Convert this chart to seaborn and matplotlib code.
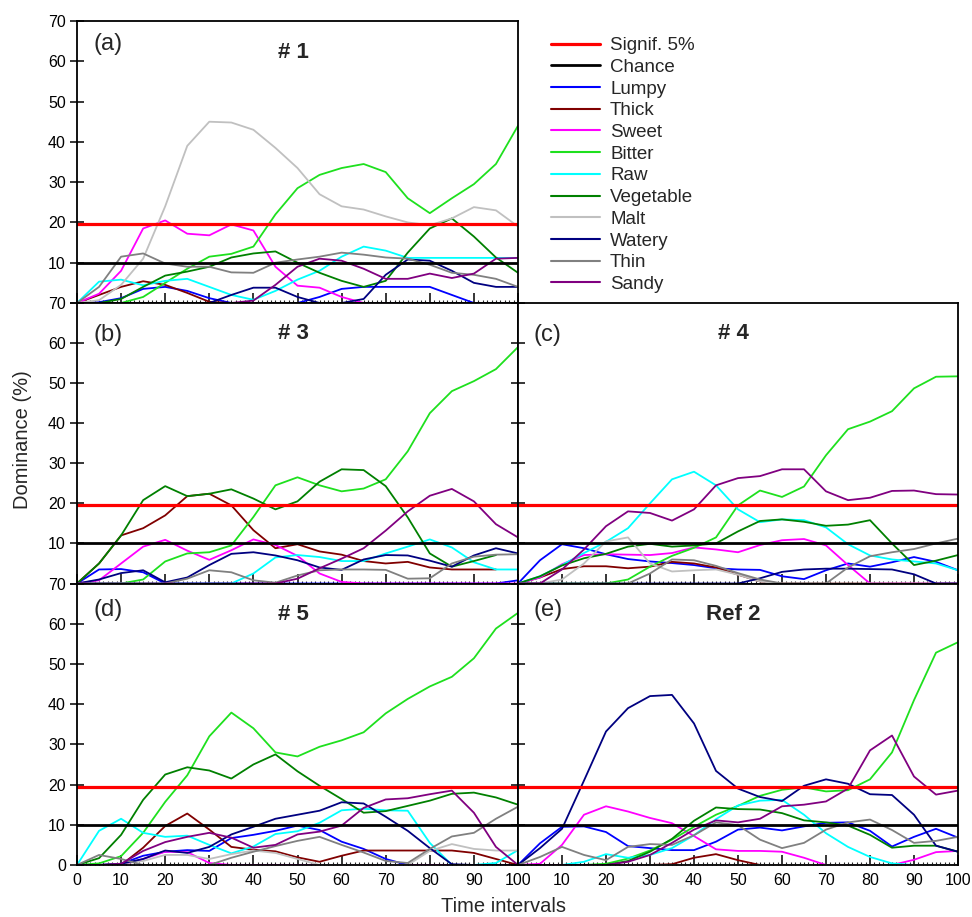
import numpy as np
import pandas as pd
import matplotlib
matplotlib.use("Agg")
import matplotlib.pyplot as plt
import seaborn as sns
from matplotlib.lines import Line2D
from matplotlib.ticker import MultipleLocator, FixedLocator

sns.set_style("ticks")
plt.rcParams["font.family"] = ["Liberation Sans", "DejaVu Sans"]

nan = np.nan
time = list(range(0, 101, 5))
attributes = ["Lumpy", "Thick", "Sweet", "Bitter", "Raw", "Vegetable",
              "Malt", "Watery", "Thin", "Sandy"]
attr_colors = ["#0000FF", "#800000", "#FF00FF", "#1EE01E", "#00FFFF", "#008000",
               "#C0C0C0", "#000080", "#808080", "#800080"]
signif_level = 19.5
chance_level = 10
panel_letters = ["(a)", "(b)", "(c)", "(d)", "(e)"]
panel_titles = ["# 1", "# 3", "# 4", "# 5", "Ref 2"]

zero = [0] * 21

s1 = {
    "Lumpy":     [0, 0.2, 1.2, 3.5, 4, 3, 1.2, 0, 0, 0, 0, 1.5, 3.5, 4, 4, 4, 4, 2, 0, 0, 0],
    "Thick":     [0, 2, 4, 5.4, 4.5, 2.5, 0.3, 0, 0, 0, 0, 0, 0, 0, 0, 0, 0, 0, 0, 0, 0],
    "Sweet":     [0, 2.3, 8, 18.5, 20.5, 17.2, 16.8, 19.5, 18, 9, 4.3, 3.8, 1.5, 0, 0, 0, 0, 0, 0, 0, 0],
    "Bitter":    [0, 0, 0, 1.5, 5, 8.5, 11.5, 12.2, 14, 22, 28.5, 31.8, 33.5, 34.5, 32.5, 26, 22.3, 26, 29.5, 34.5, 44],
    "Raw":       [0, 5.3, 5.8, 4.4, 5.5, 6, 4, 2, 0.8, 3, 5.8, 8, 11.5, 14, 13, 11.2, 11.2, 11.2, 11.2, 11.2, 11.2],
    "Vegetable": [0, 0, 1, 4, 6.8, 7.8, 9, 11.3, 12.3, 12.8, 10, 7.5, 5.5, 4, 5.5, 12.5, 18.5, 21, 16.5, 11.3, 7.5],
    "Malt":      [0, 0.7, 4.5, 11, 24, 39, 45, 44.8, 43, 38.5, 33.5, 27, 24, 23.2, 21.5, 20, 19.3, 21, 23.8, 23, 19],
    "Watery":    [0, 0, 0, 0, 0, 0, 0, 2, 3.8, 3.8, 1.5, 0, 0, 1, 7, 10.8, 10.5, 8, 5, 4, 4],
    "Thin":      [0, 4, 11.5, 12.3, 9.8, 9, 9, 7.6, 7.5, 10, 10.8, 11.5, 12.5, 12, 11.3, 11, 9.5, 7.5, 7, 6, 4],
    "Sandy":     [0, 0, 0, 0, 0, 0, 0, 0, 0.6, 4.5, 9, 11, 10.5, 8.5, 6, 6, 7.3, 6.2, 7.3, 11, 11.2],
}
s3 = {
    "Lumpy":     [0, 3.5, 3.6, 2.8, 0, 0, 0, 0, 0, 0, 0, 0, 0, 0, 0, 0, 0, 0, 0, 0, 0.8],
    "Thick":     [0, 5, 12, 13.8, 17, 21.8, 22.4, 19.5, 13.3, 8.8, 9.8, 8, 7.2, 5.6, 5, 5.4, 4, 3.5, 3.5, 3.5, nan],
    "Sweet":     [0, 0.8, 5, 9.2, 10.9, 8.2, 5.9, 8.3, 11, 9.6, 6.9, 2.5, 0.4, 0, 0, 0, 0, 0, 0, 0, 0],
    "Bitter":    [0, 0, 0, 1, 5.5, 7.5, 7.8, 9.5, 16.6, 24.5, 26.5, 24.5, 23, 23.7, 26, 33, 42.5, 48, 50.5, 53.5, 59],
    "Raw":       [0, 0, 0, 0, 0, 0, 0, 0, 2.5, 6.5, 7.1, 6.6, 5.6, 5.6, 7.5, 9.2, 11, 9, 5.3, 3.5, 3.5],
    "Vegetable": [0, 5, 12, 20.8, 24.3, 21.8, 22.4, 23.5, 21.2, 18.5, 20.5, 25.4, 28.5, 28.3, 24.3, 16.5, 7.5, 4.2, 5.6, 7.1, nan],
    "Malt":      zero,
    "Watery":    [0, 1, 2.6, 3.3, 0.3, 1.5, 4.6, 7.4, 7.8, 7, 5.8, 4, 3.4, 6, 7.1, 7, 5.7, 4.2, 7, 8.8, 7.5],
    "Thin":      [0, 0, 0, 0, 0, 1.2, 3.3, 2.8, 0.8, 0.2, 2, 3.3, 3.5, 3.5, 3.4, 1.2, 1.3, 5, 6.7, 7.2, 7.3],
    "Sandy":     [0, 0, 0, 0, 0, 0, 0, 0, 0, 0, 1.2, 3.8, 6.2, 8.8, 13.2, 18, 21.9, 23.6, 20.5, 14.8, 11.5],
}
s4 = {
    "Lumpy":     [0, 5.8, 9.8, 8.8, 7.3, 6.1, 5.5, 5.1, 4.6, 3.8, 3.5, 3.4, 1.8, 1.1, 3.3, 5, 4.2, 5.3, 6.6, 5.4, 3.3],
    "Thick":     [0, 1.5, 3.6, 4.3, 4.3, 3.8, 4.2, 5.4, 5, 4, 2.2, 0.5, 0, 0, 0, 0, 0, 0, 0, 0, 0],
    "Sweet":     [0, 1.5, 4.8, 7.1, 7.3, 7.2, 7.1, 7.6, 9, 8.5, 7.8, 9.6, 10.8, 11.1, 9.5, 4.6, 0, 0, 0, 0, 0],
    "Bitter":    [0, 0, 0, 0, 0, 1, 4.2, 6.9, 8.9, 11.5, 19.5, 23.2, 21.6, 24.2, 32, 38.5, 40.4, 43, 48.7, 51.6, 51.7],
    "Raw":       [0, 1.8, 4.6, 7.6, 10.4, 13.8, 20, 26, 27.9, 24.5, 18.5, 15.3, 16, 15.8, 14, 9.8, 7, 6, 5.5, 5, 3.3],
    "Vegetable": [0, 1.8, 4.5, 6.3, 7.4, 9.2, 9.9, 9.2, 9.5, 10, 13, 15.6, 16, 15.4, 14.4, 14.7, 15.8, 10, 4.6, 5.7, 7.1],
    "Malt":      [0, 0, 1, 5, 10.5, 11.5, 5, 3, 3.3, 3.5, 2.2, 0.5, 0, 0, 0, 0, 0, 0, 0, 0, 0],
    "Watery":    [0, 0, 0, 0, 0, 0, 0, 0, 0, 0, 0, 1.3, 2.9, 3.5, 3.7, 3.7, 3.6, 3.5, 2.3, 0, 0],
    "Thin":      [0, 0, 0, 0, 0, 0, 2.5, 6, 5.8, 4.4, 2.6, 1, 0, 0, 0, 4, 6.8, 7.8, 8.6, 10, 11.2],
    "Sandy":     [0, 0, 3.5, 8.5, 14.3, 18, 17.6, 15.7, 18.5, 24.5, 26.3, 26.8, 28.5, 28.5, 23, 20.8, 21.4, 23.1, 23.2, 22.3, 22.2],
}
s5 = {
    "Lumpy":     [0, 0, 0.3, 2.3, 3.3, 3.7, 3.5, 6.7, 7.5, 8.5, 9.8, 8.7, 5.8, 4, 1.5, 0, 0, 0, 0, 0, 0],
    "Thick":     [0, 0, 0, 4.3, 9.7, 12.8, 8.8, 4.5, 3.8, 3.4, 1.9, 0.8, 2.3, 3.6, 3.6, 3.6, 3.6, 3.6, 3, 1.5, 0],
    "Sweet":     [0, 0, 0, 1.5, 3.3, 3.2, 0.5, 0, 0, 0, 0, 0, 0, 0, 0, 0, 0, 0, 0, 0, 0],
    "Bitter":    [0, 0.4, 2.2, 8, 15.7, 22.3, 32, 37.9, 34, 28, 27, 29.4, 31, 33, 37.7, 41.3, 44.4, 46.8, 51.4, 58.8, 62.7],
    "Raw":       [0, 8.5, 11.5, 8, 7, 7.3, 5, 2.9, 4.6, 7.7, 8.4, 10.5, 13.6, 14, 13.6, 13.5, 5.5, 0, 0, 0.5, 3.7],
    "Vegetable": [0, 1.7, 7.5, 16.2, 22.5, 24.3, 23.5, 21.5, 25, 27.5, 23.3, 19.7, 16.4, 13, 13.4, 14.7, 16, 17.7, 18, 16.8, 15],
    "Malt":      [0, 0, 0.3, 1, 2.5, 2.5, 1.5, 2.7, 3.6, 3, 1.5, 0, 0, 0, 0, 0, 3.5, 5.2, 4, 3.6, 3.6],
    "Watery":    [0, 0, 0.3, 1.5, 3.6, 3, 4.5, 7.6, 9.5, 11.5, 12.5, 13.5, 15.6, 15.3, 12, 8.5, 4.2, 0.2, 0, 0, 0],
    "Thin":      [0, 2.5, 1.5, 0, 0, 0, 0, 1.8, 3.3, 4.7, 6, 7, 5, 3.1, 1, 0.5, 4, 7.1, 8, 11.5, 14.5],
    "Sandy":     [0, 0, 0.3, 3.5, 5.7, 7, 8, 6.8, 4.3, 5, 7.6, 8.3, 9.8, 14.2, 16.3, 16.6, 17.6, 18.5, 13, 4.5, 0],
}
s_ref2 = {
    "Lumpy":     [0, 5.4, 9.5, 9.6, 8.2, 4.7, 4.2, 3.7, 3.7, 5.8, 8.8, 9.3, 8.6, 9.6, 10.5, 10.6, 8.5, 4.6, 7, 9, 6.8],
    "Thick":     [0, 0, 0, 0, 0, 0, 0, 0.2, 1.8, 2.7, 1.2, 0, 0, 0, 0, 0, 0, 0, 0, 0, 0],
    "Sweet":     [0, 0.3, 5, 12.5, 14.6, 13.3, 11.7, 10.4, 7.2, 3.9, 3.5, 3.5, 3.3, 1.8, 0, 0, 0, 0, 1.3, 3.2, 3.5],
    "Bitter":    [0, 0, 0, 0, 0.3, 1.6, 3.6, 6.3, 9.5, 12.5, 14.7, 17.2, 18.7, 19.3, 18.3, 18.6, 21.3, 28, 41, 52.8, 55.4],
    "Raw":       [0, 0, 0, 0.8, 2.7, 1.8, 2.5, 4.2, 7.4, 11.4, 14.8, 16, 16.2, 12.5, 7.9, 4.5, 2, 0.4, 0, 0, 0],
    "Vegetable": [0, 0, 0, 0, 0, 1, 3.3, 6.5, 11, 14.3, 13.9, 13.8, 12.9, 11.1, 10.6, 9.8, 7.5, 4.3, 4.8, 4.8, 3.3],
    "Malt":      zero,
    "Watery":    [0, 4.2, 9, 21, 33.2, 39, 42, 42.3, 35.2, 23.4, 19, 16.9, 15.9, 19.7, 21.3, 20.2, 17.6, 17.4, 12.5, 4.8, 3.3],
    "Thin":      [0, 2, 4.5, 2.5, 1.2, 4.5, 5.2, 5, 7.4, 10.6, 9.9, 6.3, 4.2, 5.5, 8.8, 10.6, 11.3, 8.7, 5.5, 6, 7],
    "Sandy":     [0, 0, 0, 0, 0, 0.8, 2.5, 5.5, 8.8, 11.1, 10.6, 11.5, 14.6, 15, 15.8, 19, 28.5, 32.2, 22, 17.5, 18.5],
}
panel_data = [s1, s3, s4, s5, s_ref2]

palette = dict(zip(attributes, attr_colors))

W, H = 972, 917
fig = plt.figure(figsize=(W / 100, H / 100), dpi=100)

def rect(x0, y0, x1, y1):
    return [x0 / W, 1 - y1 / H, (x1 - x0) / W, (y1 - y0) / H]

rects = [rect(77, 21, 518, 303), rect(77, 303, 518, 583.5), rect(518, 303, 958, 583.5),
         rect(77, 583.5, 518, 865), rect(518, 583.5, 958, 865)]
letter_dy = [23, 32, 32, 26, 26]
is_left = [True, True, False, True, False]
is_bottom = [False, False, False, True, True]

for i, ax_rect in enumerate(rects):
    ax = fig.add_axes(ax_rect)
    data = panel_data[i]
    df = pd.DataFrame({
        "t": np.tile(time, len(attributes)),
        "v": np.concatenate([data[a] for a in attributes]),
        "attr": np.repeat(attributes, len(time)),
    }).dropna()
    sns.lineplot(data=df, x="t", y="v", hue="attr", hue_order=attributes,
                 palette=palette, estimator=None, legend=False, ax=ax,
                 linewidth=1.3)
    ax.axhline(signif_level, color="#FF0000", lw=2.3)
    ax.axhline(chance_level, color="black", lw=2.0)
    ax.set_xlim(0, 100)
    ax.set_ylim(0, 70)
    ax.set_xlabel("")
    ax.set_ylabel("")
    for sp in ax.spines.values():
        sp.set_visible(True)
        sp.set_color("black")
        sp.set_linewidth(1.3)
    ax.xaxis.set_major_locator(MultipleLocator(10))
    ax.xaxis.set_minor_locator(MultipleLocator(1))
    ax.yaxis.set_major_locator(MultipleLocator(10))
    ax.tick_params(axis="x", which="major", direction="in", length=7, width=1.1,
                   labelsize=11.5, pad=6, colors="black")
    ax.tick_params(axis="x", which="minor", direction="in", length=2.5, width=0.8)
    ax.tick_params(axis="y", which="major", direction="inout", length=10, width=1.1,
                   labelsize=11.5, pad=3, colors="black")
    if is_bottom[i]:
        ax.set_xticks(range(0, 101, 10))
        if is_left[i]:
            ax.set_xticklabels([str(v) for v in range(0, 101, 10)])
        else:
            ax.set_xticklabels([""] + [str(v) for v in range(10, 101, 10)])
    else:
        ax.set_xticklabels([])
    if is_left[i]:
        ax.set_yticks(range(0, 71, 10))
        labs = [str(v) for v in range(0, 71, 10)]
        if not is_bottom[i]:
            labs[0] = ""
        ax.set_yticklabels(labs)
    else:
        ax.set_yticklabels([])
    ax.text(16 / 441, 1 - letter_dy[i] / 281, panel_letters[i], transform=ax.transAxes,
            fontsize=17, ha="left", va="center")
    ax.text(0.49, 1 - 31 / 281, panel_titles[i], transform=ax.transAxes,
            fontsize=16, fontweight="bold", ha="center", va="center")

handles = [Line2D([], [], color="#FF0000", lw=2.3), Line2D([], [], color="black", lw=2.0)]
handles += [Line2D([], [], color=c, lw=1.5) for c in attr_colors]
labels = ["Signif. 5%", "Chance"] + attributes
fig.legend(handles, labels, loc="upper left", bbox_to_anchor=(551 / W, 1 - 37 / H),
           frameon=False, fontsize=13.5, handlelength=2.6, handletextpad=0.55,
           labelspacing=0.245, borderpad=0, borderaxespad=0)

fig.text(22 / W, 1 - 440 / H, "Dominance (%)", rotation=90, fontsize=14.5,
         ha="center", va="center")
fig.text(503 / W, 1 - 907 / H, "Time intervals", fontsize=14.5, ha="center", va="center")

fig.savefig("out.png", dpi=100)
